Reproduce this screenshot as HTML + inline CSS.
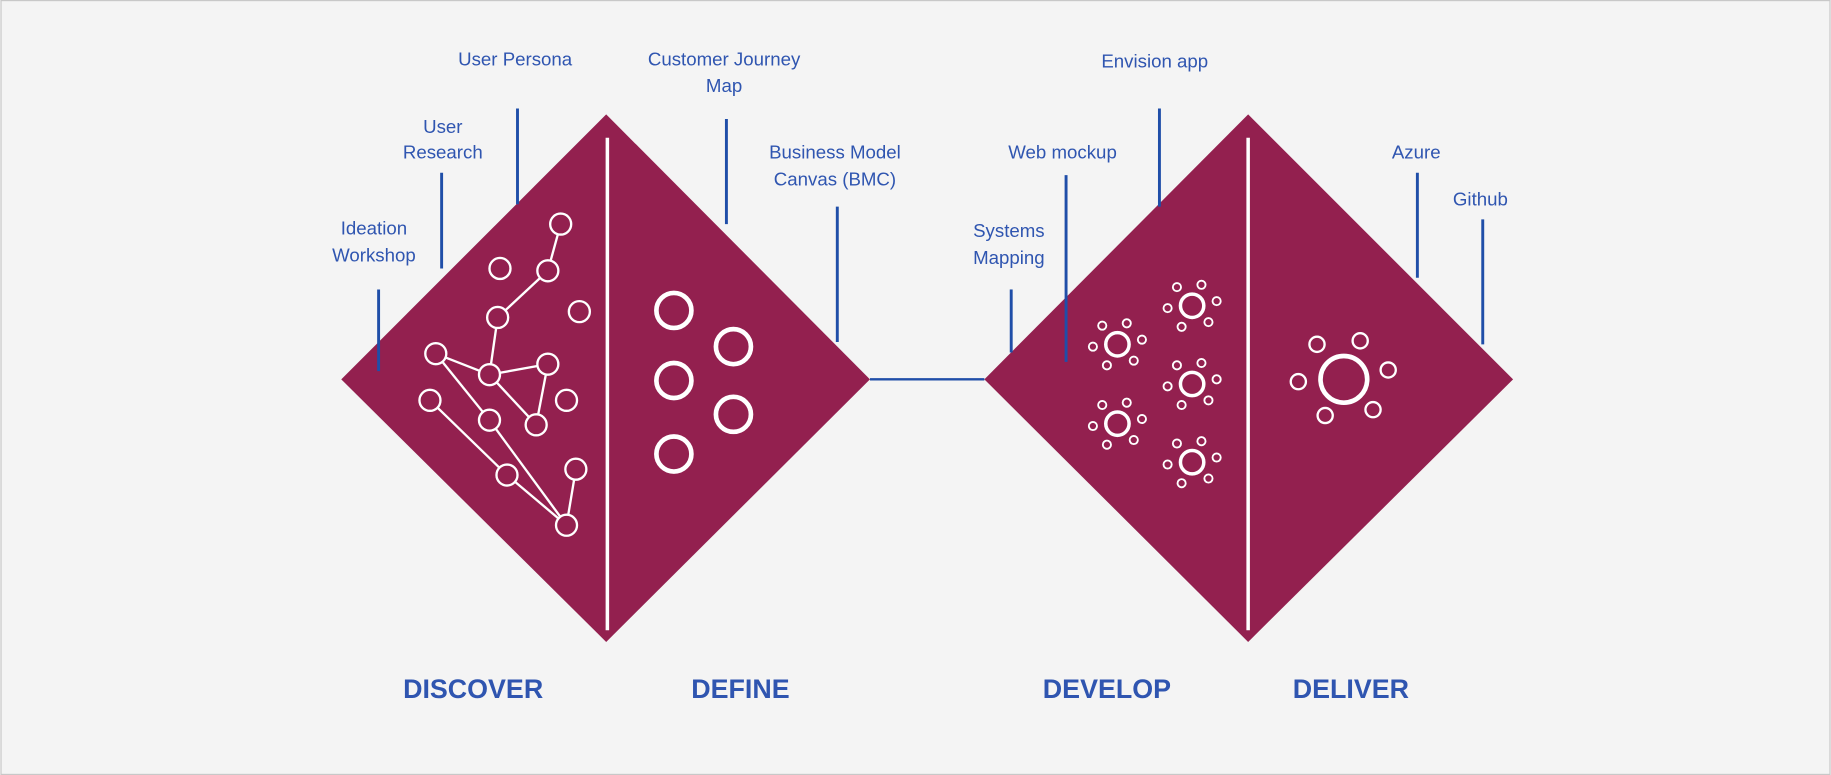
<!DOCTYPE html>
<html><head><meta charset="utf-8"><style>
html,body{margin:0;padding:0;background:#f4f4f4;}
svg{display:block;}
text{font-family:"Liberation Sans",sans-serif;fill:#2f55b0;}
</style></head><body>
<svg width="1831" height="775" viewBox="0 0 1568 664" xmlns="http://www.w3.org/2000/svg">
<rect x="0.5" y="0.5" width="1567" height="663" fill="#f4f4f4" stroke="#c8c8c8" stroke-width="1"/>
<line x1="745" y1="325" x2="843" y2="325" stroke="#1f4ea8" stroke-width="2"/>
<polygon points="519,98 745,325 519,550 292,325" fill="#93204f"/>
<polygon points="1069,98 1296,325 1069,550 843,325" fill="#93204f"/>
<line x1="520" y1="118" x2="520" y2="540" stroke="#fff" stroke-width="3"/>
<line x1="1069" y1="118" x2="1069" y2="540" stroke="#fff" stroke-width="3"/>
<g stroke="#1f4ea8" stroke-width="2.5">
<line x1="443" y1="93" x2="443" y2="175"/>
<line x1="378" y1="148" x2="378" y2="230"/>
<line x1="324" y1="248" x2="324" y2="318"/>
<line x1="622" y1="102" x2="622" y2="192"/>
<line x1="717" y1="177" x2="717" y2="293"/>
<line x1="993" y1="93" x2="993" y2="177"/>
<line x1="913" y1="150" x2="913" y2="310"/>
<line x1="866" y1="248" x2="866" y2="302"/>
<line x1="1214" y1="148" x2="1214" y2="238"/>
<line x1="1270" y1="188" x2="1270" y2="295"/>
</g>
<g font-size="16" text-anchor="middle">
<text x="441" y="56">User Persona</text>
<text x="379" y="114">User</text><text x="379" y="136">Research</text>
<text x="320" y="201">Ideation</text><text x="320" y="224">Workshop</text>
<text x="620" y="56">Customer Journey</text><text x="620" y="79">Map</text>
<text x="715" y="136">Business Model</text><text x="715" y="159">Canvas (BMC)</text>
<text x="989" y="58">Envision app</text>
<text x="910" y="136">Web mockup</text>
<text x="864" y="203">Systems</text><text x="864" y="226">Mapping</text>
<text x="1213" y="136">Azure</text>
<text x="1268" y="176">Github</text>
</g>
<g font-size="23" font-weight="bold" text-anchor="middle">
<text x="405" y="598">DISCOVER</text>
<text x="634" y="598">DEFINE</text>
<text x="948" y="598">DEVELOP</text>
<text x="1157" y="598">DELIVER</text>
</g>
<g stroke="#fff" stroke-width="2" fill="none">
<line x1="480" y1="192" x2="469" y2="232"/>
<line x1="469" y1="232" x2="426" y2="272"/>
<line x1="426" y1="272" x2="419" y2="321"/>
<line x1="373" y1="303" x2="419" y2="321"/>
<line x1="373" y1="303" x2="419" y2="360"/>
<line x1="419" y1="321" x2="469" y2="312"/>
<line x1="469" y1="312" x2="459" y2="364"/>
<line x1="419" y1="321" x2="459" y2="364"/>
<line x1="419" y1="360" x2="485" y2="450"/>
<line x1="368" y1="343" x2="434" y2="407"/>
<line x1="434" y1="407" x2="485" y2="450"/>
<line x1="493" y1="402" x2="485" y2="450"/>
</g>
<g stroke="#fff" stroke-width="2" fill="#93204f">
<circle cx="480" cy="192" r="9"/><circle cx="469" cy="232" r="9"/><circle cx="428" cy="230" r="9"/>
<circle cx="426" cy="272" r="9"/><circle cx="496" cy="267" r="9"/><circle cx="373" cy="303" r="9"/>
<circle cx="419" cy="321" r="9"/><circle cx="469" cy="312" r="9"/><circle cx="485" cy="343" r="9"/>
<circle cx="368" cy="343" r="9"/><circle cx="419" cy="360" r="9"/><circle cx="459" cy="364" r="9"/>
<circle cx="434" cy="407" r="9"/><circle cx="493" cy="402" r="9"/><circle cx="485" cy="450" r="9"/>
</g>
<g stroke="#fff" stroke-width="4" fill="none">
<circle cx="577" cy="266" r="15"/><circle cx="628" cy="297" r="15"/><circle cx="577" cy="326" r="15"/>
<circle cx="628" cy="355" r="15"/><circle cx="577" cy="389" r="15"/>
</g>
<defs>
<g id="sun" fill="none" stroke="#fff">
<circle r="10" stroke-width="3"/>
<g stroke-width="1.6">
<circle cx="-13" cy="-16" r="3.5"/><circle cx="8" cy="-18" r="3.5"/><circle cx="21" cy="-4" r="3.5"/>
<circle cx="14" cy="14" r="3.5"/><circle cx="-9" cy="18" r="3.5"/><circle cx="-21" cy="2" r="3.5"/>
</g></g>
</defs>
<use href="#sun" x="1021" y="262"/>
<use href="#sun" x="957" y="295"/>
<use href="#sun" x="1021" y="329"/>
<use href="#sun" x="957" y="363"/>
<use href="#sun" x="1021" y="396"/>
<g fill="none" stroke="#fff">
<circle cx="1151" cy="325" r="20" stroke-width="4"/>
<g stroke-width="2">
<circle cx="1128" cy="295" r="6.5"/><circle cx="1165" cy="292" r="6.5"/><circle cx="1189" cy="317" r="6.5"/>
<circle cx="1176" cy="351" r="6.5"/><circle cx="1135" cy="356" r="6.5"/><circle cx="1112" cy="327" r="6.5"/>
</g></g>
</svg>
</body></html>
